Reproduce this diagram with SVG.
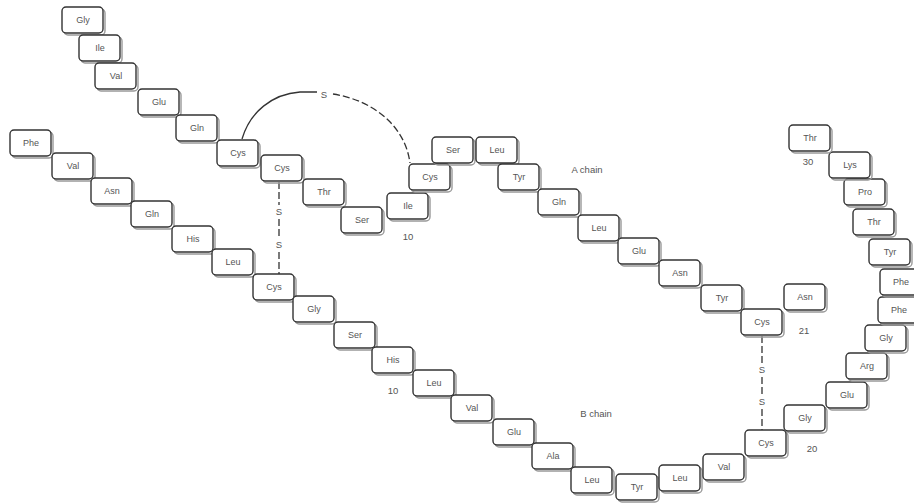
<svg xmlns="http://www.w3.org/2000/svg" xmlns:xlink="http://www.w3.org/1999/xlink" width="914" height="504" viewBox="0 0 914 504">
<style>
.bx{fill:#fff;stroke:#333;stroke-width:1.4}
.sh{fill:none;stroke:#999;stroke-width:1.4}
.t{font-family:"Liberation Sans",Arial,sans-serif;font-size:9px;fill:#555;text-anchor:middle}
.lb{font-family:"Liberation Sans",Arial,sans-serif;font-size:9.5px;fill:#555;text-anchor:middle}
.ln{fill:none;stroke:#333;stroke-width:1.3}
.ds{fill:none;stroke:#333;stroke-width:1.3;stroke-dasharray:7 3}
</style>
<defs>
<g id="box">
<rect class="sh" x="-19" y="-11" width="41" height="26" rx="4"/>
<rect class="bx" x="-21" y="-13" width="41" height="26" rx="4"/>
</g>
</defs>
<rect width="914" height="504" fill="#fff"/>
<g id="connectors">
<path class="ln" d="M242,139 C250,112 272,94 300,92 L317,92"/>
<path class="ds" d="M333,94 C372,100 405,125 410,163"/>
<path class="ds" d="M279,182 L279,205 M279,219 L279,238 M279,252 L279,274"/>
<path class="ds" d="M762,336 L762,363 M762,377 L762,395 M762,409 L762,431"/>
</g>
<g id="labels">
<text class="lb" x="324" y="98">S</text>
<text class="lb" x="279" y="215">S</text>
<text class="lb" x="279" y="248">S</text>
<text class="lb" x="762" y="373">S</text>
<text class="lb" x="762" y="405">S</text>
<text class="lb" x="587" y="173">A chain</text>
<text class="lb" x="596" y="417">B chain</text>
<text class="lb" x="408" y="240">10</text>
<text class="lb" x="804" y="334">21</text>
<text class="lb" x="393" y="394">10</text>
<text class="lb" x="812" y="452">20</text>
<text class="lb" x="808" y="165">30</text>
</g>
<g id="A1" transform="translate(83,20)"><use xlink:href="#box"/><text class="t" y="3">Gly</text></g>
<g id="A2" transform="translate(100,48)"><use xlink:href="#box"/><text class="t" y="3">Ile</text></g>
<g id="A3" transform="translate(116,76)"><use xlink:href="#box"/><text class="t" y="3">Val</text></g>
<g id="A4" transform="translate(159,102)"><use xlink:href="#box"/><text class="t" y="3">Glu</text></g>
<g id="A5" transform="translate(197,128)"><use xlink:href="#box"/><text class="t" y="3">Gln</text></g>
<g id="A6" transform="translate(238,153)"><use xlink:href="#box"/><text class="t" y="3">Cys</text></g>
<g id="A7" transform="translate(282,168)"><use xlink:href="#box"/><text class="t" y="3">Cys</text></g>
<g id="A8" transform="translate(324,192)"><use xlink:href="#box"/><text class="t" y="3">Thr</text></g>
<g id="A9" transform="translate(362,220)"><use xlink:href="#box"/><text class="t" y="3">Ser</text></g>
<g id="A10" transform="translate(408,206)"><use xlink:href="#box"/><text class="t" y="3">Ile</text></g>
<g id="A11" transform="translate(430,177)"><use xlink:href="#box"/><text class="t" y="3">Cys</text></g>
<g id="A12" transform="translate(453,150)"><use xlink:href="#box"/><text class="t" y="3">Ser</text></g>
<g id="A13" transform="translate(497,150)"><use xlink:href="#box"/><text class="t" y="3">Leu</text></g>
<g id="A14" transform="translate(519,177)"><use xlink:href="#box"/><text class="t" y="3">Tyr</text></g>
<g id="A15" transform="translate(559,202)"><use xlink:href="#box"/><text class="t" y="3">Gln</text></g>
<g id="A16" transform="translate(599,228)"><use xlink:href="#box"/><text class="t" y="3">Leu</text></g>
<g id="A17" transform="translate(639,251)"><use xlink:href="#box"/><text class="t" y="3">Glu</text></g>
<g id="A18" transform="translate(680,273)"><use xlink:href="#box"/><text class="t" y="3">Asn</text></g>
<g id="A19" transform="translate(722,298)"><use xlink:href="#box"/><text class="t" y="3">Tyr</text></g>
<g id="A20" transform="translate(762,322)"><use xlink:href="#box"/><text class="t" y="3">Cys</text></g>
<g id="A21" transform="translate(805,297)"><use xlink:href="#box"/><text class="t" y="3">Asn</text></g>
<g id="B1" transform="translate(31,143)"><use xlink:href="#box"/><text class="t" y="3">Phe</text></g>
<g id="B2" transform="translate(73,166)"><use xlink:href="#box"/><text class="t" y="3">Val</text></g>
<g id="B3" transform="translate(112,191)"><use xlink:href="#box"/><text class="t" y="3">Asn</text></g>
<g id="B4" transform="translate(152,214)"><use xlink:href="#box"/><text class="t" y="3">Gln</text></g>
<g id="B5" transform="translate(193,239)"><use xlink:href="#box"/><text class="t" y="3">His</text></g>
<g id="B6" transform="translate(233,262)"><use xlink:href="#box"/><text class="t" y="3">Leu</text></g>
<g id="B7" transform="translate(274,287)"><use xlink:href="#box"/><text class="t" y="3">Cys</text></g>
<g id="B8" transform="translate(314,309)"><use xlink:href="#box"/><text class="t" y="3">Gly</text></g>
<g id="B9" transform="translate(355,335)"><use xlink:href="#box"/><text class="t" y="3">Ser</text></g>
<g id="B10" transform="translate(393,360)"><use xlink:href="#box"/><text class="t" y="3">His</text></g>
<g id="B11" transform="translate(434,383)"><use xlink:href="#box"/><text class="t" y="3">Leu</text></g>
<g id="B12" transform="translate(472,408)"><use xlink:href="#box"/><text class="t" y="3">Val</text></g>
<g id="B13" transform="translate(514,432)"><use xlink:href="#box"/><text class="t" y="3">Glu</text></g>
<g id="B14" transform="translate(553,456)"><use xlink:href="#box"/><text class="t" y="3">Ala</text></g>
<g id="B15" transform="translate(592,480)"><use xlink:href="#box"/><text class="t" y="3">Leu</text></g>
<g id="B16" transform="translate(637,487)"><use xlink:href="#box"/><text class="t" y="3">Tyr</text></g>
<g id="B17" transform="translate(680,478)"><use xlink:href="#box"/><text class="t" y="3">Leu</text></g>
<g id="B18" transform="translate(724,467)"><use xlink:href="#box"/><text class="t" y="3">Val</text></g>
<g id="B19" transform="translate(766,443)"><use xlink:href="#box"/><text class="t" y="3">Cys</text></g>
<g id="B20" transform="translate(805,418)"><use xlink:href="#box"/><text class="t" y="3">Gly</text></g>
<g id="B21" transform="translate(847,395)"><use xlink:href="#box"/><text class="t" y="3">Glu</text></g>
<g id="B22" transform="translate(867,366)"><use xlink:href="#box"/><text class="t" y="3">Arg</text></g>
<g id="B23" transform="translate(886,338)"><use xlink:href="#box"/><text class="t" y="3">Gly</text></g>
<g id="B24" transform="translate(899,310)"><use xlink:href="#box"/><text class="t" y="3">Phe</text></g>
<g id="B25" transform="translate(901,282)"><use xlink:href="#box"/><text class="t" y="3">Phe</text></g>
<g id="B26" transform="translate(890,252)"><use xlink:href="#box"/><text class="t" y="3">Tyr</text></g>
<g id="B27" transform="translate(874,222)"><use xlink:href="#box"/><text class="t" y="3">Thr</text></g>
<g id="B28" transform="translate(865,192)"><use xlink:href="#box"/><text class="t" y="3">Pro</text></g>
<g id="B29" transform="translate(850,165)"><use xlink:href="#box"/><text class="t" y="3">Lys</text></g>
<g id="B30" transform="translate(810,138)"><use xlink:href="#box"/><text class="t" y="3">Thr</text></g>
</svg>
